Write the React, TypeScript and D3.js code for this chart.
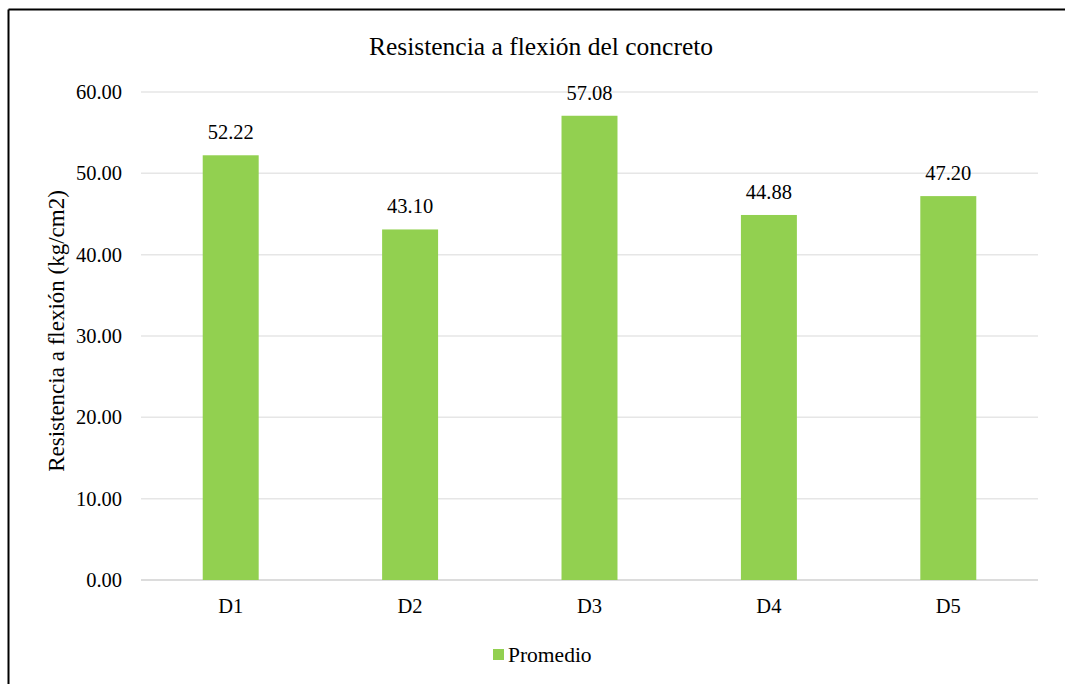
import React from "react";
import * as d3 from "d3";

const categories = ["D1", "D2", "D3", "D4", "D5"];
const values = [52.22, 43.1, 57.08, 44.88, 47.2];
const yTicks = [0, 10, 20, 30, 40, 50, 60];
const seriesName = "Promedio";
const title = "Resistencia a flexión del concreto";
const yTitle = "Resistencia a flexión (kg/cm2)";

export default function App() {
  const W = 1065, H = 684;
  const left = 141, right = 1038, top = 92, bottom = 580;
  const x = d3.scaleBand<string>().domain(categories).range([left, right]).paddingInner(0.688).paddingOuter(0.344);
  const y = d3.scaleLinear().domain([0, 60]).range([bottom, top]);
  const font = "'Liberation Serif', 'Times New Roman', serif";
  return (
    <svg width={W} height={H} style={{ position: "absolute", left: 0, top: 0 }} fontFamily={font}>
      <rect x={0} y={0} width={W} height={H} fill="#fff" />
      <line x1={8.5} y1={9.5} x2={W} y2={9.5} stroke="#000" strokeWidth={2} />
      <line x1={8.5} y1={9.5} x2={8.5} y2={H} stroke="#000" strokeWidth={2} />
      <text x={541} y={55} textAnchor="middle" fontSize={25.5} fill="#000">{title}</text>
      {yTicks.map((t) => (
        <g key={t}>
          <line x1={left} x2={right} y1={y(t)} y2={y(t)} stroke={t === 0 ? "#d0d0d0" : "#e6e6e6"} strokeWidth={1.5} />
          <text x={122} y={y(t) + 7} textAnchor="end" fontSize={20.5} fill="#000">{t.toFixed(2)}</text>
        </g>
      ))}
      {categories.map((c, i) => {
        const bx = x(c)!;
        const bw = x.bandwidth();
        return (
          <g key={c}>
            <rect x={bx} y={y(values[i])} width={bw} height={bottom - y(values[i])} fill="#92D050" />
            <text x={bx + bw / 2} y={y(values[i]) - 16} textAnchor="middle" fontSize={20.5} fill="#000">{values[i].toFixed(2)}</text>
            <text x={bx + bw / 2} y={613} textAnchor="middle" fontSize={20.5} fill="#000">{c}</text>
          </g>
        );
      })}
      <text transform={`translate(64,331) rotate(-90)`} textAnchor="middle" fontSize={23} fill="#000">{yTitle}</text>
      <rect x={493} y={649} width={11} height={11} fill="#92D050" />
      <text x={508} y={662} fontSize={21.5} fill="#000">{seriesName}</text>
    </svg>
  );
}
